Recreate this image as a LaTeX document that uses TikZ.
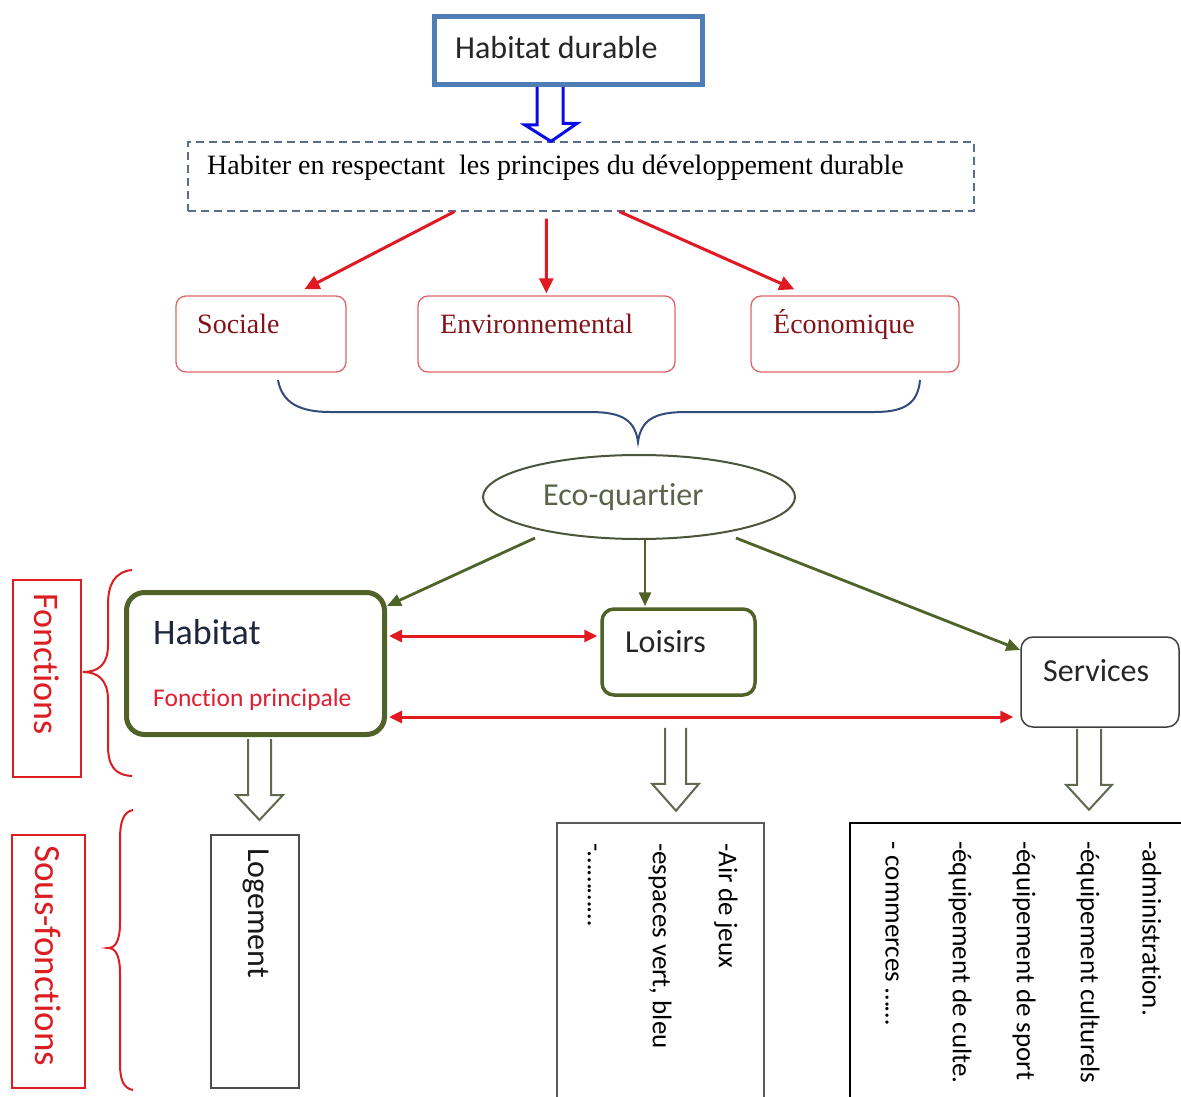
\documentclass[tikz,border=0pt]{standalone}
\usepackage{fontspec}
\setmainfont{Liberation Serif}
\newfontfamily\calfont[Ligatures=NoCommon,RawFeature={-liga;-clig}]{Carlito}
\usetikzlibrary{arrows.meta,shapes.geometric,calc}
\definecolor{hdblue}{RGB}{79,125,181}
\definecolor{arrblue}{RGB}{10,10,230}
\definecolor{dashgray}{RGB}{90,110,140}
\definecolor{rred}{RGB}{225,25,35}
\definecolor{boxred}{RGB}{225,100,105}
\definecolor{dred}{RGB}{130,20,25}
\definecolor{braceblue}{RGB}{50,75,120}
\definecolor{olivec}{RGB}{79,98,40}
\definecolor{ellgray}{RGB}{75,85,60}
\definecolor{ectext}{RGB}{90,100,75}
\definecolor{navyc}{RGB}{30,40,60}
\definecolor{fred}{RGB}{225,30,50}
\definecolor{labred}{RGB}{220,30,35}
\definecolor{hollowc}{RGB}{95,105,80}
\begin{document}
\begin{tikzpicture}[x=1pt,y=-1pt,
  redbox/.style={draw=boxred, line width=1.3pt, rounded corners=10pt},
  redtxt/.style={text=dred, font=\fontsize{28}{30}\selectfont, inner sep=0pt, anchor=base west},
  sanstxt/.style={font=\calfont\fontsize{32}{34}\selectfont, inner sep=0pt, anchor=base west},
  vtxt/.style={font=\calfont\fontsize{27}{29}\selectfont, inner sep=0pt, anchor=west, rotate=-90},
  redarrow/.style={draw=rred, line width=3pt, -{Triangle[length=15pt,width=14pt]}},
  olivearrow/.style={draw=olivec, line width=2.8pt, -{Triangle[length=14pt,width=12pt]}},
  dblarrow/.style={draw=rred, line width=3pt, {Triangle[length=13pt,width=12pt]}-{Triangle[length=13pt,width=12pt]}},
  hollow/.style={draw=hollowc, line width=2pt, fill=white, line join=miter},
  brace/.style={line width=2pt}
]
\useasboundingbox (0,0) rectangle (1181,1097);
\fill[white] (0,0) rectangle (1181,1097);

% top
\node[draw=hdblue, line width=5pt, minimum width=268pt, minimum height=68pt, inner sep=0pt] (hd) at (568.5,50.5) {};
\node[sanstxt, text=black!85] (hdt) at (455,59) {Habitat durable};
\node[draw=dashgray, dash pattern=on 8pt off 5pt, line width=1.2pt, minimum width=786pt, minimum height=69pt, inner sep=0pt] (dash) at (581,176.5) {};
\node[redtxt, text=black] (dasht) at (207,175) {Habiter en respectant\ \ les principes du développement durable};

\draw[draw=arrblue, line width=3pt, line join=miter] ($(hd.south)+(-31.5,0)$) -- ++(0,38) -- ++(-12,0) -- ($(dash.north)+(-30,0)$) -- ++(26,-18) -- ++(-14,0) -- ($(hd.south)+(-5.5,0)$);

% three boxes
\node[redbox, minimum width=170pt, minimum height=76pt] (soc) at (261,334) {};
\node[redbox, minimum width=257pt, minimum height=76pt] (env) at (546.5,334) {};
\node[redbox, minimum width=208pt, minimum height=76pt] (eco) at (855,334) {};
\node[redtxt] (soct) at (197,333) {Sociale};
\node[redtxt] (envt) at (440,333) {Environnemental};
\node[redtxt] (ecot) at (773,333) {Économique};

\draw[redarrow] ($(dash.south west)+(267,0)$) -- ($(soc.north west)+(129,-6)$);
\draw[redarrow] ($(dash.south west)+(359,7)$) -- ($(env.north west)+(129,-2)$);
\draw[redarrow] ($(dash.south west)+(432,0)$) -- ($(eco.north west)+(44,-6)$);

% brace
\draw[brace, draw=braceblue] (278,380) .. controls (282,403) and (300,412) .. (330,412) -- (590,412) .. controls (622,412) and (635,420) .. (638,442) .. controls (641,420) and (654,412) .. (686,412) -- (875,412) .. controls (905,412) and (918,403) .. (920,380);

% eco-quartier
\node[ellipse, draw=ellgray, line width=2pt, minimum width=312pt, minimum height=84pt, inner sep=0pt] (eq) at (639,497) {};
\node[sanstxt, text=ectext] (eqt) at (543,505) {Eco-quartier};

% functions
\node[draw=olivec, line width=5pt, rounded corners=18pt, minimum width=258pt, minimum height=142pt, inner sep=0pt] (hab) at (255.5,663.5) {};
\node[sanstxt, text=navyc, font=\calfont\fontsize{36}{38}\selectfont] (habt) at (153,644) {Habitat};
\node[sanstxt, text=fred, font=\calfont\fontsize{25.5}{27}\selectfont] (habf) at (153,706) {Fonction principale};
\node[draw=olivec, line width=3.5pt, rounded corners=12pt, minimum width=153pt, minimum height=86pt, inner sep=0pt] (loi) at (678.5,652) {};
\node[sanstxt, text=black!85] (loit) at (625,652) {Loisirs};
\node[draw=black!75, line width=1.5pt, rounded corners=12pt, minimum width=158pt, minimum height=90pt, inner sep=0pt] (ser) at (1100,682) {};
\node[sanstxt, text=black!85] (sert) at (1043,681) {Services};

\draw[olivearrow] ($(eq.south)+(-104,-2)$) -- ($(hab.north east)+(0,16)$);
\draw[olivearrow] ($(eq.south)+(6,0)$) -- ($(loi.north)+(-33.5,-1)$);
\draw[olivearrow] ($(eq.south)+(97,-2)$) -- ($(ser.west)+(0,-32)$);

\draw[dblarrow] ($(hab.east)+(2,-27.5)$) -- ($(loi.west)+(-3,-16)$);
\draw[dblarrow] ($(hab.east)+(2,53.5)$) -- ($(ser.west)+(-7,35)$);

% side labels and braces
\node[draw=labred, line width=1.3pt, minimum width=68pt, minimum height=197pt, inner sep=0pt] (fl) at (47,678.5) {};
\node[vtxt, text=labred, font=\calfont\fontsize{36}{38}\selectfont] (flt) at (47,593) {Fonctions};
\draw[brace, draw=labred] (132,570) .. controls (114,572) and (108,585) .. (108,605) -- (108,645) .. controls (108,665) and (98,672) .. (83,672) .. controls (98,672) and (108,680) .. (108,700) -- (108,745) .. controls (108,765) and (114,775) .. (132,776);
\node[draw=labred, line width=1.3pt, minimum width=73pt, minimum height=253pt, inner sep=0pt] (sfl) at (48.5,961.5) {};
\node[vtxt, text=labred, font=\calfont\fontsize{37}{39}\selectfont] (sflt) at (48,845) {Sous-fonctions};
\draw[brace, draw=labred] (133,810) .. controls (123,812) and (120,822) .. (120,840) -- (120,922) .. controls (120,940) and (116,948) .. (108,948) .. controls (116,948) and (120,956) .. (120,974) -- (120,1062) .. controls (120,1080) and (123,1088) .. (133,1090);

% hollow arrows
\draw[hollow] ($(hab.south)+(-7.5,2)$) -- ++(0,56) -- ++(-12,0) -- ++(23.5,25) -- ++(23.5,-25) -- ++(-12,0) -- ++(0,-56);
\draw[hollow] ($(loi.south)+(-13.5,31)$) -- ++(0,56) -- ++(-13,0) -- ++(24,27) -- ++(23,-27) -- ++(-13,0) -- ++(0,-56);
\draw[hollow] ($(ser.south)+(-23,1)$) -- ++(0,56) -- ++(-11,0) -- ++(23,25) -- ++(23,-25) -- ++(-11,0) -- ++(0,-56);

% sub-function boxes
\node[draw=black!70, line width=1.3pt, minimum width=88pt, minimum height=253pt, inner sep=0pt] (log) at (255,961.5) {};
\node[vtxt, text=black!90, font=\calfont\fontsize{32}{34}\selectfont] (logt) at (256,848) {Logement};
\node[draw=black!65, line width=1.3pt, minimum width=207pt, minimum height=280pt, inner sep=0pt] (ll) at (660.5,963) {};
\node[vtxt] (l1) at (726,843) {-Air de jeux};
\node[vtxt] (l2) at (660,843) {-espaces vert, bleu};
\node[vtxt] (l3) at (592,843) {-…………};
\node[draw=black, line width=1.6pt, minimum width=340pt, minimum height=280pt, inner sep=0pt] (sl) at (1020,963) {};
\node[vtxt] (s1) at (1152,841) {-administration.};
\node[vtxt] (s2) at (1088,841) {-équipement culturels};
\node[vtxt] (s3) at (1024,841) {-équipement de sport};
\node[vtxt] (s4) at (960,841) {-équipement de culte.};
\node[vtxt] (s5) at (892,841) {- commerces ……};
\end{tikzpicture}
\end{document}
